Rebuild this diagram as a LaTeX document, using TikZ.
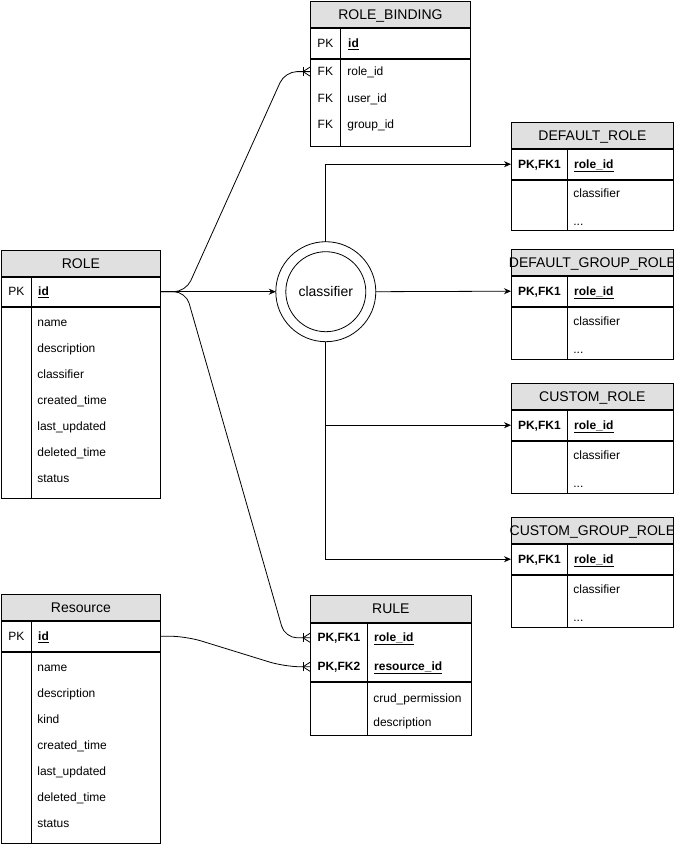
\documentclass[tikz,border=0pt]{standalone}
\usepackage{fontspec}
\setmainfont{Liberation Sans}
\usetikzlibrary{arrows.meta, calc, decorations.markings}
\definecolor{headGrey}{RGB}{224, 224, 224}
\newcommand{\fieldFont}{\fontsize{12}{14}\selectfont}
\newcommand{\headFont}{\fontsize{14}{16}\selectfont}
\newcommand{\keyField}[1]{\underline{\textbf{#1}}}

\begin{document}
\begin{tikzpicture} [
        x=1pt, y=-1pt, line width=.8pt,
        tbl head/.style={draw, fill=headGrey, anchor=north west, inner sep=0pt, minimum height=26pt, font=\headFont, text height=12.5pt, text depth=2.5pt},
        tbl box/.style={draw, anchor=north west, inner sep=0pt},
        key/.style={anchor=west, inner sep=0pt, font=\fieldFont, text height=10.5pt, text depth=2.5pt},
        key bold/.style={key, font=\fieldFont\bfseries},
        field/.style={anchor=west, inner sep=0pt, font=\fieldFont, text height=10.5pt, text depth=2.5pt},
        classifier circle/.style={draw, circle, inner sep=0pt, outer sep=0pt, font=\headFont},
        link/.style={-{Stealth[length=7pt, width=6pt]}},
        crow foot/.style={rounded corners=12pt, postaction={decorate, decoration={markings, mark=at position 1 with {
            \draw[sharp corners] (-7pt,-4.5pt) -- (-7pt,4.5pt);
            \draw[sharp corners] (0,-4.5pt) -- (-7pt,0) -- (0,4.5pt);}}}},
    ]
    \useasboundingbox[fill=white] (0,0) rectangle (674,844);

    % ROLE
    \path (1,250) node[tbl head, minimum width=159pt] (role) {ROLE};
    \path (role.south west) node[tbl box, minimum width=159pt, minimum height=29pt] (role key) {};
    \path (role key.south west) node[tbl box, minimum width=159pt, minimum height=191pt] (role body) {};
    \path (role key.west) node[key, minimum width=30pt] (role pk) {PK};
    \path (role pk.east) ++(6,0) node[field] (role id) {\keyField{id}};
    \draw (role pk.east |- role key.north) -- (role pk.east |- role body.south);
    \path (role body.north west) ++(36,16) node[field] (role name) {name}
        ++(0,26) node[field] (role description) {description}
        ++(0,26) node[field] (role classifier) {classifier}
        ++(0,26) node[field] (role created) {created\_time}
        ++(0,26) node[field] (role updated) {last\_updated}
        ++(0,26) node[field] (role deleted) {deleted\_time}
        ++(0,26) node[field] (role status) {status};

    % Resource
    \path (1,594) node[tbl head, minimum width=159pt] (res) {Resource};
    \path (res.south west) node[tbl box, minimum width=159pt, minimum height=30pt] (res key) {};
    \path (res key.south west) node[tbl box, minimum width=159pt, minimum height=191pt] (res body) {};
    \path (res key.west) node[key, minimum width=30pt] (res pk) {PK};
    \path (res pk.east) ++(6,0) node[field] (res id) {\keyField{id}};
    \draw (res pk.east |- res key.north) -- (res pk.east |- res body.south);
    \path (res body.north west) ++(36,16) node[field] (res name) {name}
        ++(0,26) node[field] (res description) {description}
        ++(0,26) node[field] (res kind) {kind}
        ++(0,26) node[field] (res created) {created\_time}
        ++(0,26) node[field] (res updated) {last\_updated}
        ++(0,26) node[field] (res deleted) {deleted\_time}
        ++(0,26) node[field] (res status) {status};

    % ROLE_BINDING
    \path (310,1) node[tbl head, minimum width=160pt] (rb) {ROLE\_BINDING};
    \path (rb.south west) node[tbl box, minimum width=160pt, minimum height=30pt] (rb key) {};
    \path (rb key.south west) node[tbl box, minimum width=160pt, minimum height=87pt] (rb body) {};
    \path (rb key.west) node[key, minimum width=30pt] (rb pk) {PK};
    \path (rb pk.east) ++(7,0) node[field] (rb id) {\keyField{id}};
    \draw (rb pk.east |- rb key.north) -- (rb pk.east |- rb body.south);
    \path (rb body.north west) ++(0,13) node[key, minimum width=30pt] (rb fk1) {FK}
        ++(0,26.5) node[key, minimum width=30pt] (rb fk2) {FK}
        ++(0,26.5) node[key, minimum width=30pt] (rb fk3) {FK};
    \path (rb body.north west) ++(37,13) node[field] (rb role id) {role\_id}
        ++(0,26.5) node[field] (rb user id) {user\_id}
        ++(0,26.5) node[field] (rb group id) {group\_id};

    % RULE
    \path (310,595) node[tbl head, minimum width=161pt, minimum height=27pt] (rule) {RULE};
    \path (rule.south west) node[tbl box, minimum width=161pt, minimum height=58pt] (rule key) {};
    \path (rule key.south west) node[tbl box, minimum width=161pt, minimum height=53pt] (rule body) {};
    \path (rule key.north west) ++(0,15) node[key bold, minimum width=57pt] (rule fk1) {PK,FK1}
        ++(0,29) node[key bold, minimum width=57pt] (rule fk2) {PK,FK2};
    \path (rule fk1.east) ++(6,0) node[field] (rule role id) {\keyField{role\_id}};
    \path (rule fk2.east) ++(6,0) node[field] (rule resource id) {\keyField{resource\_id}};
    \draw (rule fk1.east |- rule key.north) -- (rule fk1.east |- rule body.south);
    \path (rule body.north west) ++(63,17) node[field] (rule crud) {crud\_permission}
        ++(0,24) node[field] (rule description) {description};

    % DEFAULT_ROLE
    \path (511,122) node[tbl head, minimum width=162pt] (dr) {DEFAULT\_ROLE};
    \path (dr.south west) node[tbl box, minimum width=162pt, minimum height=30pt] (dr key) {};
    \path (dr key.south west) node[tbl box, minimum width=162pt, minimum height=50pt] (dr body) {};
    \path (dr key.west) node[key bold, minimum width=56pt] (dr pk) {PK,FK1};
    \path (dr pk.east) ++(6,0) node[field] (dr role id) {\keyField{role\_id}};
    \draw (dr pk.east |- dr key.north) -- (dr pk.east |- dr body.south);
    \path (dr body.north west) ++(62,14) node[field] (dr classifier) {classifier} ++(0,28) node[field] (dr more) {...};

    % DEFAULT_GROUP_ROLE
    \path (511,249) node[tbl head, minimum width=162pt] (dgr) {\makebox[0pt]{DEFAULT\_GROUP\_ROLE}};
    \path (dgr.south west) node[tbl box, minimum width=162pt, minimum height=30pt] (dgr key) {};
    \path (dgr key.south west) node[tbl box, minimum width=162pt, minimum height=52pt] (dgr body) {};
    \path (dgr key.west) node[key bold, minimum width=56pt] (dgr pk) {PK,FK1};
    \path (dgr pk.east) ++(6,0) node[field] (dgr role id) {\keyField{role\_id}};
    \draw (dgr pk.east |- dgr key.north) -- (dgr pk.east |- dgr body.south);
    \path (dgr body.north west) ++(62,15) node[field] (dgr classifier) {classifier} ++(0,28) node[field] (dgr more) {...};

    % CUSTOM_ROLE
    \path (511,383) node[tbl head, minimum width=162pt] (cr) {CUSTOM\_ROLE};
    \path (cr.south west) node[tbl box, minimum width=162pt, minimum height=30pt] (cr key) {};
    \path (cr key.south west) node[tbl box, minimum width=162pt, minimum height=52pt] (cr body) {};
    \path (cr key.west) node[key bold, minimum width=56pt] (cr pk) {PK,FK1};
    \path (cr pk.east) ++(6,0) node[field] (cr role id) {\keyField{role\_id}};
    \draw (cr pk.east |- cr key.north) -- (cr pk.east |- cr body.south);
    \path (cr body.north west) ++(62,15) node[field] (cr classifier) {classifier} ++(0,28) node[field] (cr more) {...};

    % CUSTOM_GROUP_ROLE
    \path (511,517) node[tbl head, minimum width=162pt] (cgr) {\makebox[0pt]{CUSTOM\_GROUP\_ROLE}};
    \path (cgr.south west) node[tbl box, minimum width=162pt, minimum height=30pt] (cgr key) {};
    \path (cgr key.south west) node[tbl box, minimum width=162pt, minimum height=52pt] (cgr body) {};
    \path (cgr key.west) node[key bold, minimum width=56pt] (cgr pk) {PK,FK1};
    \path (cgr pk.east) ++(6,0) node[field] (cgr role id) {\keyField{role\_id}};
    \draw (cgr pk.east |- cgr key.north) -- (cgr pk.east |- cgr body.south);
    \path (cgr body.north west) ++(62,15) node[field] (cgr classifier) {classifier} ++(0,28) node[field] (cgr more) {...};

    % classifier and links
    \path (role key.east) ++(165,0) node[classifier circle, minimum size=100pt] (classifier) {classifier};
    \path (classifier) node[classifier circle, minimum size=80pt] (classifier inner) {};
    \draw[link] (role key.east) -- (classifier.west);
    \draw[link] (classifier.north) |- (dr key.west);
    \draw[link] (classifier.east) -- (dgr key.west);
    \draw[link] (classifier.south) |- (cr key.west);
    \draw[link] (classifier.south) |- (cgr key.west);
    \draw[crow foot] (role key.east) -- ++(25,0) -- ($(rb fk1.west) + (-25,0)$) -- (rb fk1.west);
    \draw[crow foot] (role key.east) -- ++(25,0) -- ($(rule fk1.west) + (-25,0)$) -- (rule fk1.west);
    \draw[crow foot, rounded corners=16pt] (res key.east) -- ++(25,0) -- ($(rule fk2.west) + (-25,0)$) -- (rule fk2.west);
\end{tikzpicture}
\end{document}
